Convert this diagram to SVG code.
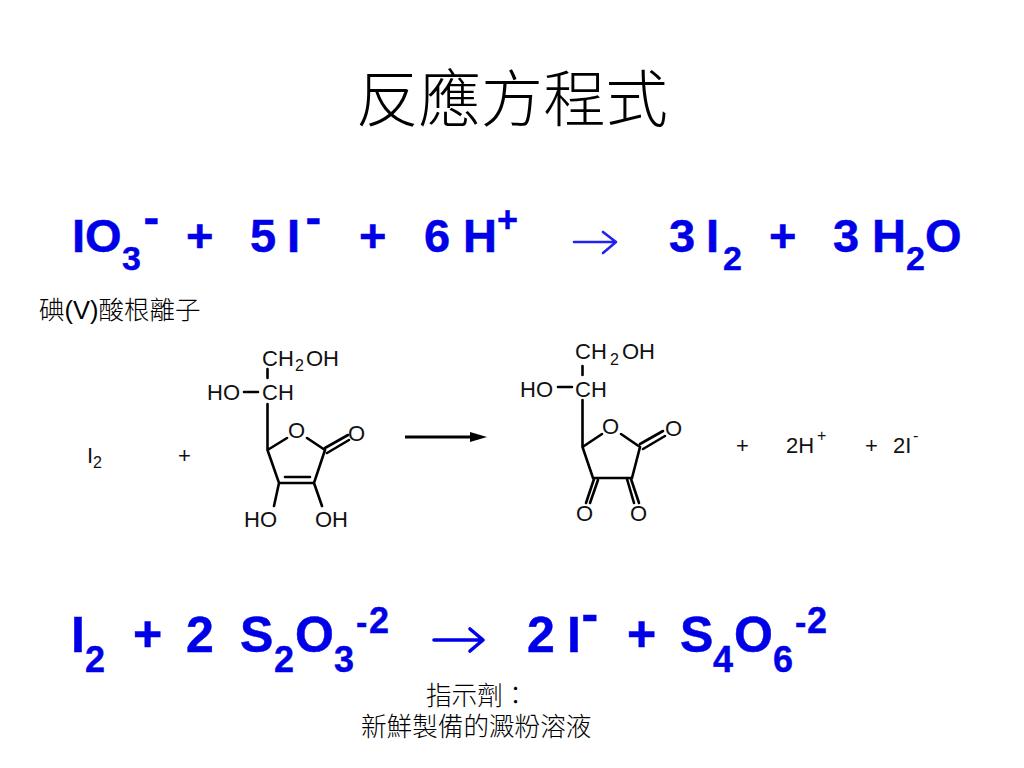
<svg xmlns="http://www.w3.org/2000/svg" width="1024" height="768" viewBox="0 0 1024 768">
<defs>
<style>
text{font-family:"Liberation Sans",Arial,sans-serif}
.cjk{font-family:"Liberation Sans","Noto Sans CJK TC",sans-serif;font-weight:300;fill:#000}
.b{font-weight:700;font-size:47px;fill:#0000e8;stroke:#0000e8;stroke-width:.5}
.c{font-weight:700;font-size:50px;fill:#0000e8;stroke:#0000e8;stroke-width:.5}
.s{font-weight:700;font-size:34px;fill:#0000e8;stroke:#0000e8;stroke-width:.4}
.u{font-weight:700;font-size:36px;fill:#0000e8;stroke:#0000e8;stroke-width:.4}
.k{font-size:22px;fill:#111}
.t{font-size:16px;fill:#111}
.bond{stroke:#000;stroke-width:2.6;fill:none;stroke-linecap:round}
.ar{stroke:#2222ee;stroke-width:2.6;fill:none;stroke-linejoin:round;stroke-linecap:round}
.ar2{stroke:#0000e8;stroke-width:3.6;fill:none;stroke-linejoin:round;stroke-linecap:round}
</style>
</defs>
<g id="title"><text class="cjk" x="356" y="122" font-size="62.4">反應方程式</text></g>
<g id="eq1">
<text class="b" x="72" y="252">IO</text><text class="s" x="122" y="270">3</text><text class="b" x="143.500" y="233">-</text>
<text class="b" x="186" y="252">+</text><text class="b" x="250" y="252">5</text><text class="b" x="287" y="252">I</text><text class="b" x="305.500" y="233">-</text>
<text class="b" x="359" y="252">+</text><text class="b" x="424" y="252">6</text><text class="b" x="463" y="252">H</text><text class="u" x="497" y="232">+</text>
<path class="ar" d="M574 242H615M603 232L616 242L603 253"/>
<text class="b" x="669" y="252">3</text><text class="b" x="706" y="252">I</text><text class="s" x="723" y="270">2</text>
<text class="b" x="769" y="252">+</text><text class="b" x="833" y="252">3</text><text class="b" x="872" y="252">H</text><text class="s" x="906" y="270">2</text><text class="b" x="925" y="252">O</text>
</g>
<g id="iodate-label"><text class="cjk" x="39" y="319" font-size="25.5">碘(V)酸根離子</text></g>
<g id="eq2">
<text class="k" x="87" y="463">I</text><text class="t" x="93" y="468">2</text><text class="k" x="178" y="463">+</text>
<g id="ascorbic-acid">
<text class="k" x="262" y="366">CH</text><text class="t" x="295" y="371">2</text><text class="k" x="306" y="366">OH</text>
<text class="k" x="207" y="400">HO</text><text class="k" x="262" y="400">CH</text>
<text class="k" x="288" y="438">O</text><text class="k" x="348" y="441">O</text>
<text class="k" x="244" y="527">HO</text><text class="k" x="315" y="527">OH</text>
<path class="bond" d="M244 392H258M267.500 369V378M267.500 404V450L279 483H314L325 450L307 438M267.500 450L287 438M285 477H310M279 483L274 506M314 483L322 506M325 448L348 435M327 453L349 440"/>
</g>
<path d="M405 437H472" stroke="#000" stroke-width="3"/><path d="M470 432L487 437L470 442Z" fill="#000"/>
<g id="dehydroascorbic-acid">
<text class="k" x="575" y="359">CH</text><text class="t" x="610" y="365">2</text><text class="k" x="622" y="359">OH</text>
<text class="k" x="520" y="397">HO</text><text class="k" x="575" y="397">CH</text>
<text class="k" x="602" y="434">O</text><text class="k" x="665" y="436">O</text>
<text class="k" x="576" y="521">O</text><text class="k" x="630" y="521">O</text>
<path class="bond" d="M558 387H572M582.500 366V375M582.500 400V447L593 478H632L640 447L621 434M582.500 447L602 434M640 444L663 431M643 449L665 436M594 479L586 503M598 480L590 503M627 479L634 503M631 479L639 503"/>
</g>
<text class="k" x="736" y="453">+</text><text class="k" x="786" y="453">2H</text><text class="t" x="817" y="441">+</text>
<text class="k" x="865" y="453">+</text><text class="k" x="893" y="453">2I</text><text class="t" x="913" y="441">-</text>
</g>
<g id="eq3">
<text class="c" x="71" y="652">I</text><text class="u" x="85" y="672">2</text>
<text class="c" x="133" y="651">+</text><text class="c" x="186" y="652">2</text>
<text class="c" x="240" y="652">S</text><text class="u" x="274" y="672">2</text><text class="c" x="295" y="652">O</text><text class="u" x="334" y="672">3</text>
<text class="s" x="356" y="634">-</text><text class="u" x="369" y="633">2</text>
<path class="ar2" d="M434 640H482M470 629L483 640L470 651"/>
<text class="c" x="527" y="652">2</text><text class="c" x="567" y="652">I</text><text class="c" x="581.500" y="631">-</text>
<text class="c" x="627" y="651">+</text><text class="c" x="680" y="652">S</text><text class="u" x="713" y="672">4</text><text class="c" x="734" y="652">O</text><text class="u" x="773" y="672">6</text>
<text class="s" x="795" y="634">-</text><text class="u" x="807" y="633">2</text>
</g>
<g id="indicator-label">
<text class="cjk" x="426" y="705" font-size="25.6">指示劑：</text>
<text class="cjk" x="361" y="736" font-size="25.6">新鮮製備的澱粉溶液</text>
</g>
</svg>
